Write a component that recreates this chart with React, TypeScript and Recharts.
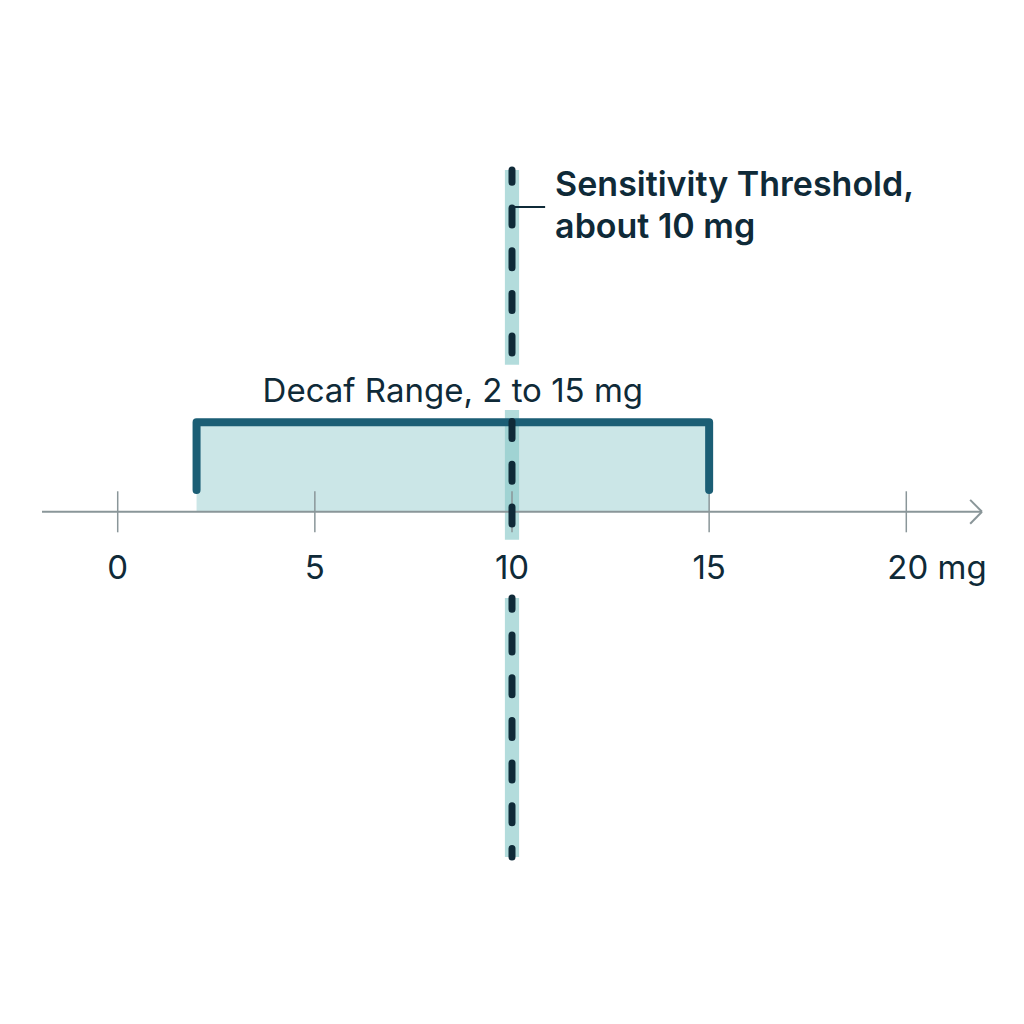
import React from "react";
import { ComposedChart, Line, XAxis, YAxis, ReferenceArea, ReferenceLine } from "recharts";

// values
const ticks = [0, 5, 10, 15, 20];
const tickUnit = "mg";
const decafRange = [2, 15];
const threshold = 10;
const decafLabel = "Decaf Range, 2 to 15 mg";
const thresholdLabel = ["Sensitivity Threshold,", "about 10 mg"];

// layout (y is in free chart units, the number line sits at 0)
const W = 1024;
const H = 1024;
const margin = { top: 170, right: 42, bottom: 167, left: 42 };
const xDomain = [-1.92, 21.92];
const yDomain = [-101, 100];
const rangeTop = 26.2;
const bracketFoot = 6.4;
const tickHalf = 6;
const bandHalf = 0.18;
const bandSpans = [
  [100, 43],
  [29.8, -8.2],
  [-25.2, -101],
];
const leaderY = 89.2;
const leaderEnd = 10.84;

const INK = "#0f2a38";
const AXIS = "#8a9699";
const TEAL = "#1b5e75";
const FONT = "Inter, 'Noto Sans', sans-serif";

const bracket = [
  { x: decafRange[0], y: bracketFoot },
  { x: decafRange[0], y: rangeTop },
  { x: decafRange[1], y: rangeTop },
  { x: decafRange[1], y: bracketFoot },
];

// keep the dash rhythm continuous across the interrupted pieces
const plotH = H - margin.top - margin.bottom;
const pxPerY = plotH / (yDomain[1] - yDomain[0]);
const toPxY = (v: number) => margin.top + (yDomain[1] - v) * pxPerY;
const DASH = 17;
const GAP = 25.7;
const PERIOD = DASH + GAP;
const DASH_ORIGIN = 208;
const dashOffset = (y: number) => (((toPxY(y) - DASH_ORIGIN) % PERIOD) + PERIOD) % PERIOD;

const TickLabel = (props: any) => {
  const vb = props.viewBox || {};
  const last = props.value === ticks[ticks.length - 1];
  const y = vb.y + vb.height + 47;
  return (
    <text
      x={last ? vb.x - 19 : vb.x}
      y={y}
      textAnchor={last ? "start" : "middle"}
      fill={INK}
      fontSize={33}
      fontFamily={FONT}
    >
      {last ? `${props.value} ${tickUnit}` : props.value}
    </text>
  );
};

const ThresholdLabel = (props: any) => {
  const vb = props.viewBox || {};
  const x = vb.x + vb.width + 10;
  return (
    <text x={x} y={vb.y - 11} fill={INK} fontSize={34} fontWeight={600} fontFamily={FONT}>
      <tspan x={x}>{thresholdLabel[0]}</tspan>
      <tspan x={x} dy={42}>
        {thresholdLabel[1]}
      </tspan>
    </text>
  );
};

export default function App() {
  return (
    <div style={{ position: "absolute", left: 0, top: 0, width: W, height: H, background: "#fff" }}>
      <ComposedChart width={W} height={H} data={bracket} margin={margin}>
        <XAxis type="number" dataKey="x" domain={xDomain} allowDataOverflow hide />
        <YAxis type="number" domain={yDomain} allowDataOverflow hide />

        <ReferenceArea
          x1={decafRange[0]}
          x2={decafRange[1]}
          y1={0}
          y2={rangeTop}
          fill="#cbe6e7"
          fillOpacity={1}
          stroke="none"
          label={{ value: decafLabel, position: "top", offset: 20, fill: INK, fontSize: 33, fontFamily: FONT }}
        />
        {bandSpans.map(([a, b], i) => (
          <ReferenceArea
            key={`band-${i}`}
            x1={threshold - bandHalf}
            x2={threshold + bandHalf}
            y1={b}
            y2={a}
            fill="#86c8c8"
            fillOpacity={0.63}
            stroke="none"
          />
        ))}

        <ReferenceLine
          segment={[
            { x: xDomain[0], y: 0 },
            { x: xDomain[1], y: 0 },
          ]}
          stroke={AXIS}
          strokeWidth={2}
        />
        <ReferenceLine
          segment={[
            { x: xDomain[1] - 0.3, y: 3.5 },
            { x: xDomain[1], y: 0 },
          ]}
          stroke={AXIS}
          strokeWidth={2}
        />
        <ReferenceLine
          segment={[
            { x: xDomain[1] - 0.3, y: -3.5 },
            { x: xDomain[1], y: 0 },
          ]}
          stroke={AXIS}
          strokeWidth={2}
        />
        {ticks.map((t) => (
          <ReferenceLine
            key={`tick-${t}`}
            segment={[
              { x: t, y: tickHalf },
              { x: t, y: -tickHalf },
            ]}
            stroke={AXIS}
            strokeWidth={1.5}
            label={(p: any) => <TickLabel {...p} value={t} />}
          />
        ))}

        <Line
          type="linear"
          dataKey="y"
          stroke={TEAL}
          strokeWidth={8}
          strokeLinecap="round"
          strokeLinejoin="round"
          dot={false}
          activeDot={false}
          isAnimationActive={false}
        />

        {bandSpans.map(([a, b], i) => (
          <ReferenceLine
            key={`dash-${i}`}
            segment={[
              { x: threshold, y: a },
              { x: threshold, y: b },
            ]}
            stroke={INK}
            strokeWidth={7}
            strokeLinecap="round"
            strokeDasharray={`${DASH} ${GAP}`}
            strokeDashoffset={dashOffset(a)}
          />
        ))}

        <ReferenceLine
          segment={[
            { x: threshold, y: leaderY },
            { x: leaderEnd, y: leaderY },
          ]}
          stroke={INK}
          strokeWidth={2}
          label={(p: any) => <ThresholdLabel {...p} />}
        />
      </ComposedChart>
    </div>
  );
}
